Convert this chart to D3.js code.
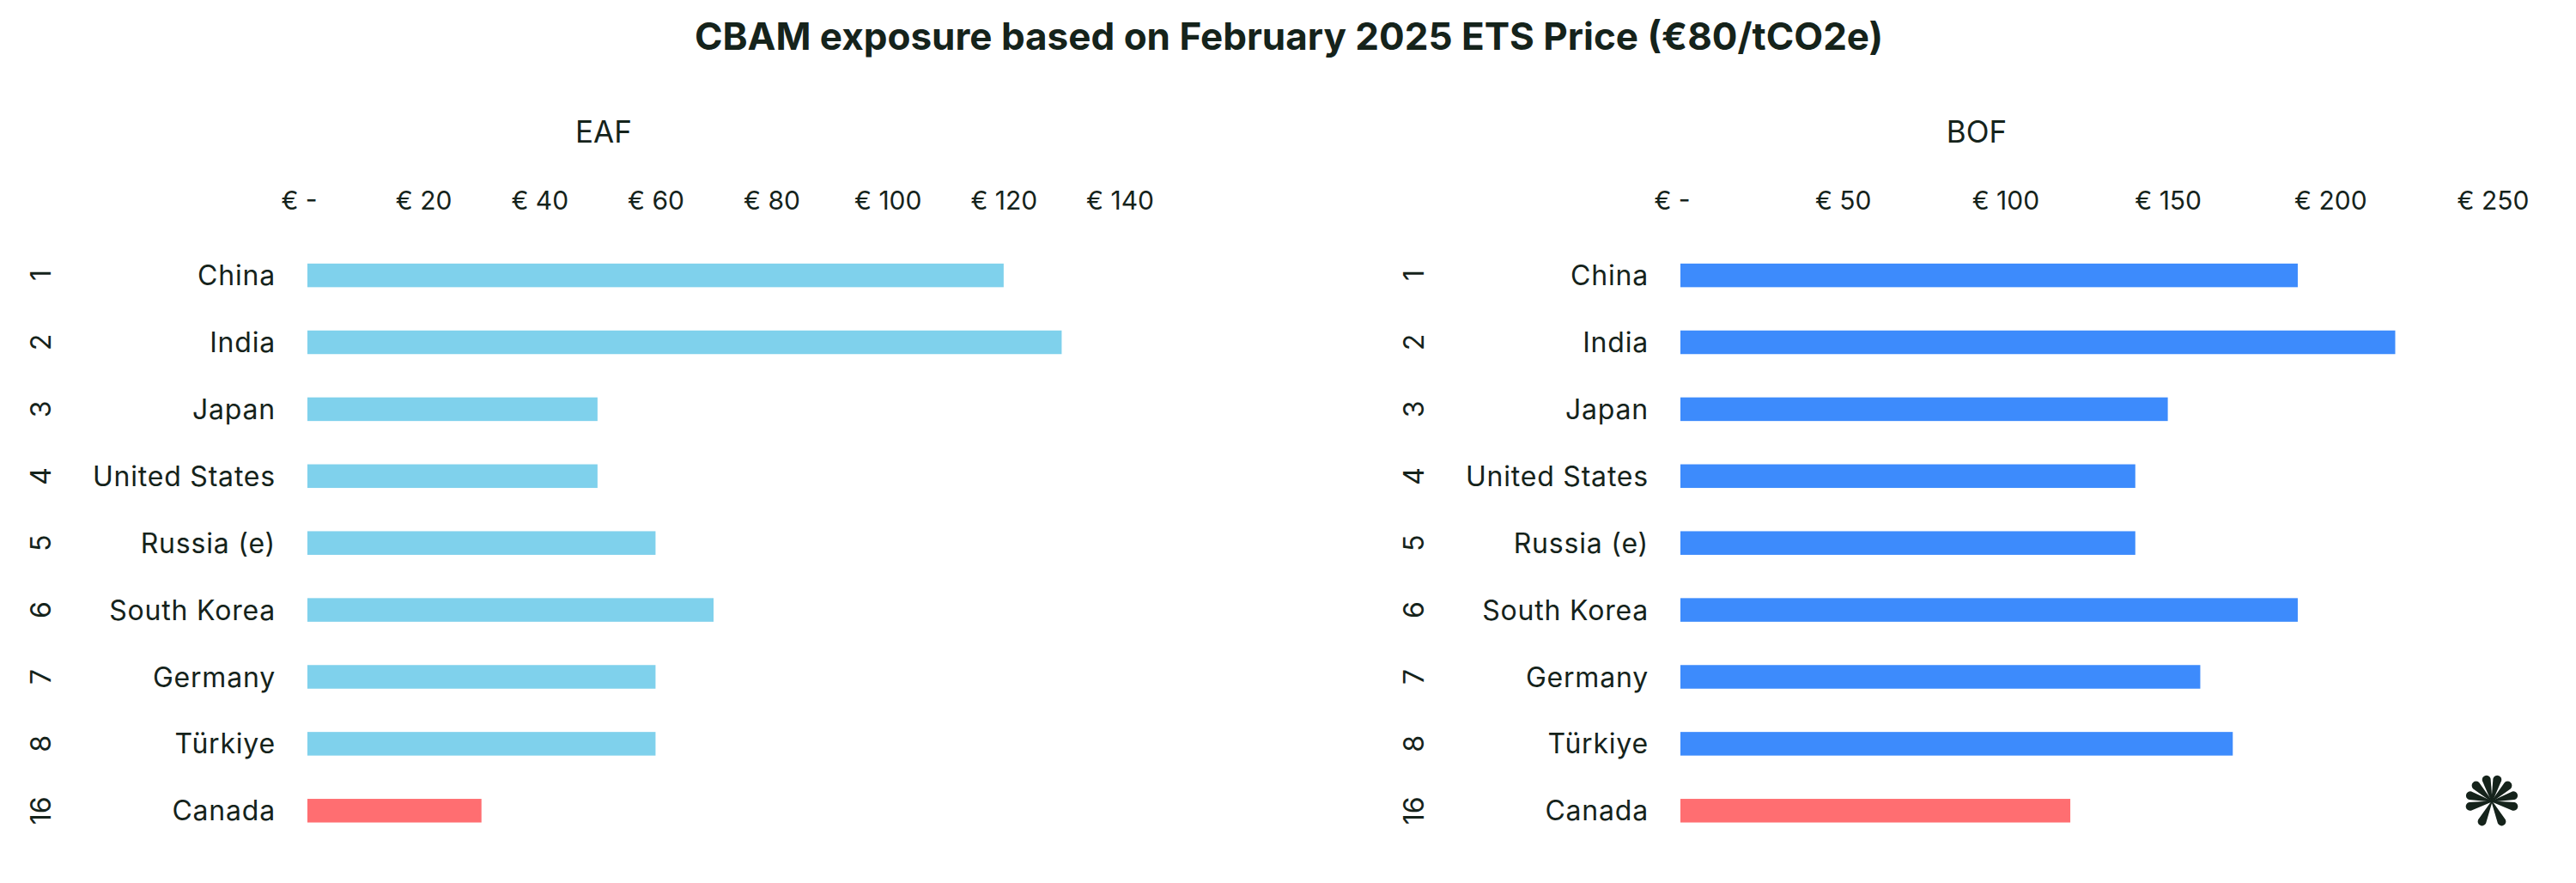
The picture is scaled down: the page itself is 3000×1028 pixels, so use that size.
<!DOCTYPE html>
<html>
<head>
<meta charset="utf-8">
<script src="https://cdn.jsdelivr.net/npm/d3@7"></script>
<style>
  html, body { margin: 0; padding: 0; background: #ffffff; }
  svg { display: block; }
  text { font-family: Inter, "Noto Sans", sans-serif; fill: #15231b; }
</style>
</head>
<body>
<svg id="chart" width="3000" height="1028"></svg>
<script>
// ---- data ----
const ranks = ["1", "2", "3", "4", "5", "6", "7", "8", "16"];
const countries = ["China", "India", "Japan", "United States", "Russia (e)", "South Korea", "Germany", "Türkiye", "Canada"];
const eafValues = [120, 130, 50, 50, 60, 70, 60, 60, 30];
const bofValues = [190, 220, 150, 140, 140, 190, 160, 170, 120];
const eafTicks = [0, 20, 40, 60, 80, 100, 120, 140];
const bofTicks = [0, 50, 100, 150, 200, 250];
const highlight = "Canada";
const titleText = "CBAM exposure based on February 2025 ETS Price (€80/tCO2e)";

const svg = d3.select("#chart");

svg.append("text")
  .attr("x", 1501).attr("y", 42)
  .attr("text-anchor", "middle").attr("dominant-baseline", "central")
  .style("font-size", "44px").style("font-weight", 700)
  .text(titleText);

const rows = countries.map((c, i) => ({ rank: ranks[i], country: c, eaf: eafValues[i], bof: bofValues[i] }));

const step = 77.9;
const y = d3.scaleBand()
  .domain(countries)
  .range([320.6 - step / 2, 320.6 + step * 8.5])
  .paddingInner(0.647)
  .paddingOuter(0.647 / 2);

function panel(offset, key, ticks, color, name) {
  const g = svg.append("g").attr("transform", `translate(${offset},0)`);
  const x = d3.scaleLinear().domain([0, d3.max(ticks)]).range([358, 1304]);

  g.append("text")
    .attr("x", 703).attr("y", 153)
    .attr("text-anchor", "middle").attr("dominant-baseline", "central")
    .style("font-size", "35px")
    .text(name);

  const ax = g.append("g").attr("transform", "translate(0,244)")
    .call(d3.axisTop(x).tickValues(ticks).tickSize(0).tickPadding(0)
      .tickFormat(v => v === 0 ? "€ -" : "€ " + v));
  ax.select(".domain").remove();
  ax.selectAll("text")
    .style("font-size", "30px")
    .style("font-family", 'Inter, "Noto Sans", sans-serif')
    .attr("fill", "#15231b")
    .attr("dx", v => v === 0 ? -10 : 0);

  g.selectAll("rect.bar").data(rows).join("rect")
    .attr("class", "bar")
    .attr("x", x(0))
    .attr("y", d => y(d.country))
    .attr("width", d => x(d[key]) - x(0))
    .attr("height", y.bandwidth())
    .attr("fill", d => d.country === highlight ? "#ff6e71" : color);

  g.selectAll("text.cty").data(rows).join("text")
    .attr("class", "cty")
    .attr("x", 321)
    .attr("y", d => y(d.country) + y.bandwidth() / 2)
    .attr("text-anchor", "end").attr("dominant-baseline", "central")
    .style("font-size", "32px")
    .style("letter-spacing", "0.8px")
    .text(d => d.country);

  g.selectAll("text.rank").data(rows).join("text")
    .attr("class", "rank")
    .attr("transform", d => `translate(47,${y(d.country) + y.bandwidth() / 2}) rotate(-90)`)
    .attr("text-anchor", "middle").attr("dominant-baseline", "central")
    .style("font-size", "32px")
    .text(d => d.rank);
}

panel(0, "eaf", eafTicks, "#7fd1ec", "EAF");
panel(1599, "bof", bofTicks, "#3d8bfc", "BOF");

// logo (decorative burst)
const logo = svg.append("g").attr("transform", "translate(2902,933)");
const spokeAngles = [-14, 14, -45, 45, -75, 75, -103, 103, -154, 154];
spokeAngles.forEach(a => {
  logo.append("path")
    .attr("d", "M -0.6 0 L -5 -26 A 5 5 0 0 1 5 -26 L 0.6 0 Z")
    .attr("fill", "#15231b")
    .attr("transform", `rotate(${a})`);
});
</script>
</body>
</html>
